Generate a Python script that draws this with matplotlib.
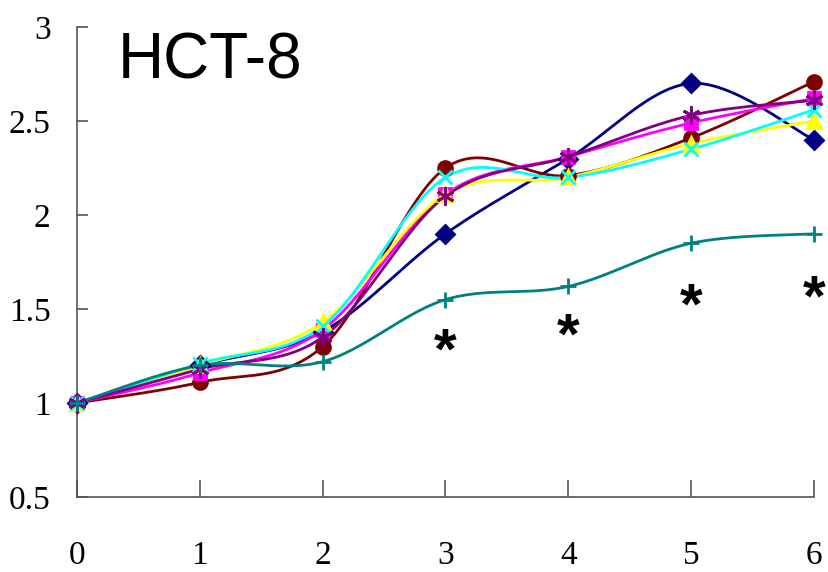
import numpy as np
import matplotlib
matplotlib.use("Agg")
import matplotlib.pyplot as plt

days = [0, 1, 2, 3, 4, 5, 6]
navy_diamond = [1.0, 1.20, 1.38, 1.90, 2.30, 2.70, 2.40]
darkred_circle = [1.0, 1.11, 1.30, 2.25, 2.21, 2.41, 2.71]
magenta_square = [1.0, 1.16, 1.39, 2.11, 2.31, 2.49, 2.62]
yellow_triangle = [1.0, 1.20, 1.43, 2.11, 2.20, 2.38, 2.50]
cyan_x = [1.0, 1.21, 1.41, 2.20, 2.20, 2.35, 2.56]
purple_star = [1.0, 1.18, 1.35, 2.10, 2.31, 2.53, 2.61]
teal_plus = [1.0, 1.20, 1.22, 1.55, 1.62, 1.85, 1.90]

star_days = [3, 4, 5, 6]
star_y = [1.335, 1.415, 1.574, 1.617]

series = [
    (navy_diamond, "#000080", "D", 9),
    (darkred_circle, "#800000", "o", 10),
    (magenta_square, "#ff00ff", "s", 9),
    (yellow_triangle, "#ffff00", "^", 10),
    (cyan_x, "#00ffff", "x", 10),
    (purple_star, "#800080", (6, 2, 0), 13),
    (teal_plus, "#008080", "+", 12),
]


def smooth(xs, ys, n=30):
    # excel style smoothed line (catmull-rom bezier)
    p = np.column_stack([xs, ys]).astype(float)
    out = []
    for i in range(len(p) - 1):
        p0 = p[i - 1] if i > 0 else p[i]
        p1, p2 = p[i], p[i + 1]
        p3 = p[i + 2] if i + 2 < len(p) else p[i + 1]
        b1 = p1 + (p2 - p0) / 6
        b2 = p2 - (p3 - p1) / 6
        t = np.linspace(0, 1, n)[:, None]
        seg = ((1 - t) ** 3) * p1 + 3 * ((1 - t) ** 2) * t * b1 + 3 * (1 - t) * t ** 2 * b2 + t ** 3 * p2
        out.append(seg if i == 0 else seg[1:])
    out = np.vstack(out)
    return out[:, 0], out[:, 1]


fig = plt.figure(figsize=(8.29, 5.72), dpi=100)
ax = fig.add_axes([77 / 829, 75 / 572, 737 / 829, 470 / 572])

for ys, col, mk, ms in series:
    sx, sy = smooth(days, ys)
    ax.plot(sx, sy, color=col, lw=2.0, clip_on=False, zorder=2)
    ax.plot(days, ys, ls="none", marker=mk, color=col, ms=ms, mew=2,
            clip_on=False, zorder=3)

# significance stars, nudged down since the glyph sits high in its box
for d, y in zip(star_days, star_y):
    ax.text(d, y - 0.07, "*", fontsize=42, fontweight="bold", ha="center", va="center",
            family="Liberation Sans")

ax.text(0.33, 2.975, "HCT-8", fontsize=46, family="Liberation Sans", va="top", ha="left")

ax.set_xlim(0, 6)
ax.set_ylim(0.5, 3)
ax.set_xticks(days)
ax.set_yticks([0.5, 1, 1.5, 2, 2.5, 3])
ax.set_yticklabels(["0.5", "1", "1.5", "2", "2.5", "3"])
for s in ["top", "right"]:
    ax.spines[s].set_visible(False)
for s in ["left", "bottom"]:
    ax.spines[s].set_color("#555555")
    ax.spines[s].set_linewidth(1.2)
ax.tick_params(axis="x", direction="in", length=12, width=1.2, color="#555555", pad=31)
ax.tick_params(axis="y", direction="in", length=8, width=1.2, color="#555555", pad=19)
for lab in ax.get_xticklabels() + ax.get_yticklabels():
    lab.set_family("Liberation Serif")
    lab.set_fontsize(24)

fig.savefig("out.png", dpi=100)
